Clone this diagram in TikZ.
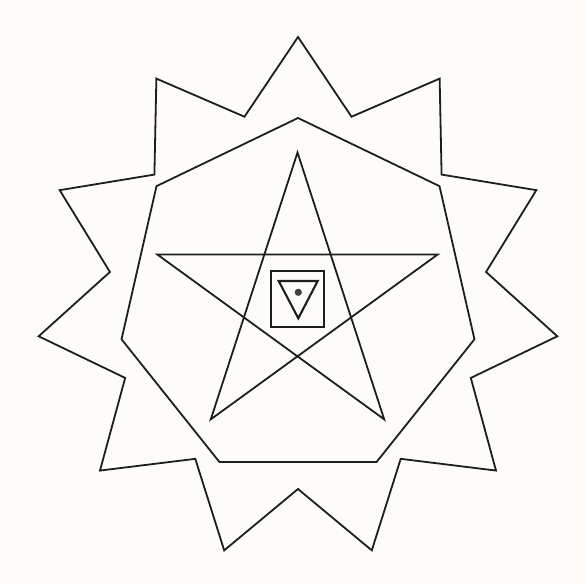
\documentclass[tikz,border=0pt]{standalone}
\usepackage{tikz}
\definecolor{paper}{RGB}{253,252,248}
\definecolor{ink}{RGB}{30,30,30}
\tikzset{
  figline/.style={draw=ink, line width=1.8pt, line join=miter},
  boxline/.style={draw=ink, line width=2.1pt, line join=miter}
}
\begin{document}
\begin{tikzpicture}[x=1pt,y=1pt]
  % page: image pixel (px,py) -> (px-298, 299-py)
  \fill[paper] (-298,-285) rectangle (288,299);
  \useasboundingbox (-298,-285) rectangle (288,299);
  % outer 11-pointed star
  \draw[figline] (90:262pt)
    \foreach \k in {1,...,10}{ -- ({90-16.3636-(\k-1)*32.7273}:190pt) -- ({90-\k*32.7273}:262pt) }
    -- ({106.3636}:190pt) -- cycle;
  % heptagon
  \draw[figline] (90:181pt)
    \foreach \k in {1,...,6}{ -- ({90-\k*51.4286}:181pt) } -- cycle;
  % pentagram
  \begin{scope}[shift={(-0.5,-1)}]
    \draw[figline] (90:147.5pt) -- (-126:147.5pt) -- (18:147.5pt) -- (162:147.5pt) -- (-54:147.5pt) -- cycle;
  \end{scope}
  % central square, triangle and dot
  \draw[boxline] (-27,28) rectangle (26,-28);
  \draw[boxline] (-19.3,18) -- (19.7,18) -- (0.3,-19.3) -- cycle;
  \fill[ink!85] (0.3,6.7) circle (3.6pt);
\end{tikzpicture}
\end{document}
